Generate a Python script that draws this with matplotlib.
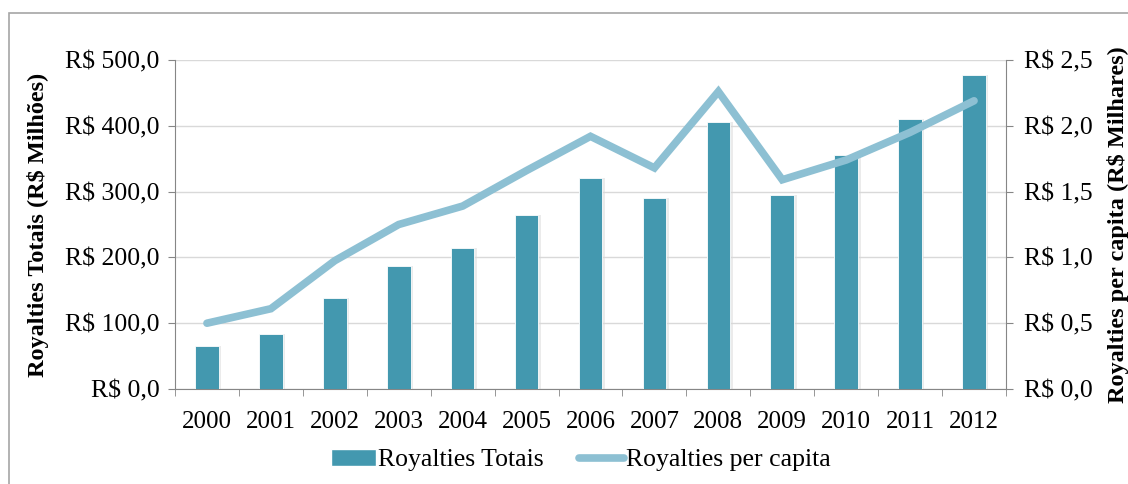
import matplotlib
matplotlib.use("Agg")
import matplotlib.pyplot as plt
import numpy as np
from matplotlib.patches import Rectangle
from matplotlib.lines import Line2D

plt.rcParams['font.family'] = ['Liberation Serif', 'DejaVu Serif']

years = [str(y) for y in range(2000, 2013)]
royalties_totais = [66, 84, 139, 187, 214, 265, 321, 290, 406, 295, 355, 411, 477]
royalties_per_capita = [0.50, 0.61, 0.975, 1.25, 1.39, 1.66, 1.92, 1.68, 2.26, 1.59, 1.74, 1.95, 2.19]
left_ticks = [0, 100, 200, 300, 400, 500]
right_ticks = [0, 0.5, 1.0, 1.5, 2.0, 2.5]

bar_color = '#4398AF'
line_color = '#8DC0D3'
axis_color = '#868686'
grid_color = '#D9D9D9'

fig = plt.figure(figsize=(11.28, 4.84), dpi=100)
fig.patches.append(Rectangle((9 / 1128, -0.01), 1.0, 1 - 13 / 484 + 0.01,
                             transform=fig.transFigure, fill=False,
                             edgecolor='#A6A6A6', linewidth=1.2))

ax = fig.add_axes([175 / 1128, 1 - 389 / 484, (1006 - 175) / 1128, (389 - 60) / 484])
x = np.arange(len(years))

ax.bar(x + 0.03, royalties_totais, width=0.39, color='#D8D8D8', alpha=0.5, zorder=2)
ax.bar(x, royalties_totais, width=0.37, color=bar_color, edgecolor='white',
       linewidth=0.6, zorder=3)

ax.set_xlim(-0.5, len(years) - 0.5)
ax.set_ylim(0, 500)
ax.set_yticks(left_ticks)
ax.set_yticklabels([f"R$ {v:.1f}".replace('.', ',') for v in left_ticks])
ax.set_xticks(x)
ax.set_xticklabels(years)
ax.set_xticks(np.arange(-0.5, len(years)), minor=True)
ax.tick_params(axis='x', which='major', length=0, pad=16, labelsize=18)
ax.tick_params(axis='x', which='minor', length=5, color=axis_color, direction='out')
ax.tick_params(axis='y', length=5, color=axis_color, labelsize=18.5, pad=6)
ax.grid(axis='y', color=grid_color, linewidth=1, zorder=0)
ax.set_axisbelow(True)
for side in ['top', 'right']:
    ax.spines[side].set_visible(False)
for side in ['left', 'bottom']:
    ax.spines[side].set_color(axis_color)
ax.set_ylabel('Royalties Totais (R$ Milhões)', fontsize=17.5, fontweight='bold', labelpad=12)

ax2 = ax.twinx()
ax2.plot(x, royalties_per_capita, color=line_color, linewidth=5.5,
         solid_capstyle='round', solid_joinstyle='miter', zorder=4)
ax2.set_ylim(0, 2.5)
ax2.set_yticks(right_ticks)
ax2.set_yticklabels([f"R$ {v:.1f}".replace('.', ',') for v in right_ticks])
ax2.tick_params(axis='y', length=5, color=axis_color, labelsize=18.5, pad=8)
for side in ['top', 'left', 'bottom']:
    ax2.spines[side].set_visible(False)
ax2.spines['right'].set_color(axis_color)
ax2.set_ylabel('Royalties per capita (R$ Milhares)', fontsize=17.5, fontweight='bold',
               labelpad=10)

handles = [Rectangle((0, 0), 1, 1, facecolor=bar_color, edgecolor='white'),
           Line2D([0], [0], color=line_color, linewidth=5.5, solid_capstyle='round')]
fig.legend(handles, ['Royalties Totais', 'Royalties per capita'],
           loc='center', bbox_to_anchor=(0.515, 1 - 460 / 484), ncol=2, frameon=False,
           fontsize=18.5, handlelength=1.75, handletextpad=0.05, columnspacing=1.4)

fig.savefig('out.png', dpi=100)
